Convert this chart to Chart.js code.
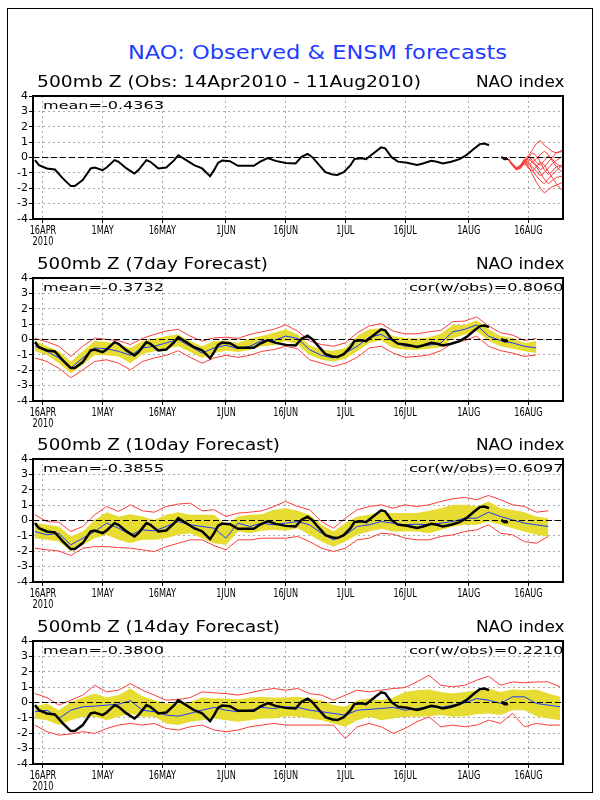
<!DOCTYPE html>
<html>
<head>
<meta charset="utf-8">
<script src="https://cdn.jsdelivr.net/npm/chart.js@4.4.0/dist/chart.umd.min.js"></script>
<style>
  body { margin: 0; background: #fff; width: 600px; height: 800px; position: relative; overflow: hidden; font-family: "DejaVu Sans", sans-serif; }
  #frame { position: absolute; left: 7px; top: 8px; width: 584px; height: 783px; border: 1px solid #000; }
  canvas { position: absolute; left: 0; }
  .t { position: absolute; white-space: nowrap; line-height: 1; transform-origin: 0 0; z-index: 2; }
</style>
</head>
<body>
<div id="frame"></div>
<script>
// x axis is days since 14 Apr 2010
var xMin = -0.5, xMax = 132.7;
var tickDays = [2, 17, 32, 48, 63, 78, 93, 109, 124];
var tickLabels = ['16APR', '1MAY', '16MAY', '1JUN', '16JUN', '1JUL', '16JUL', '1AUG', '16AUG'];
var yearLabel = '2010';

// observed NAO index (null = gap)
var obsDays = [0,1,3,5,7,9,10,12,14,15,17,18,20,21,23,25,26,28,29,31,33,35,36,38,40,42,44,45,46,47,
  49,51,55,56.5,58.5,60.5,63,65.5,67,68.5,69.7,71.6,73,74.8,76,77.6,79.3,80.3,82,83.2,
  85,87,88,89.6,91.2,93.5,96,97.5,99.6,101,102.5,104.6,106.7,108.4,110.1,111.8,113,114.1,114.5,117.2,118,118.9];
var obsVals = [-0.17,-0.5,-0.71,-0.78,-1.36,-1.86,-1.86,-1.47,-0.71,-0.65,-0.82,-0.65,-0.17,-0.28,-0.71,-1.04,-0.82,-0.17,-0.28,-0.71,
  -0.65,-0.17,0.15,-0.17,-0.5,-0.71,-1.21,-0.82,-0.35,-0.2,-0.24,-0.54,-0.54,-0.28,-0.04,-0.22,-0.35,-0.39,0.05,0.24,
  0.02,-0.55,-0.95,-1.1,-1.14,-0.95,-0.5,-0.1,-0.05,-0.11,0.26,0.66,0.6,0.02,-0.27,-0.34,-0.48,-0.39,-0.22,-0.28,
  -0.39,-0.28,-0.11,0.15,0.52,0.87,0.91,0.8,null,0.04,-0.11,-0.09];

// ENSM members for the coming days (top panel)
var ensDays = [119,120,121,122,123,124,125,126,127,128,129,130,131,132.7];
var ensMembers = [
  [-0.1,-0.45,-0.75,-0.65,-0.2,0.1,0.5,0.9,1.1,0.8,0.6,0.4,0.3,0.4],
  [-0.1,-0.5,-0.8,-0.6,-0.3,-0.6,-1.1,-1.6,-2.0,-2.3,-2.1,-1.9,-1.8,-1.6],
  [-0.15,-0.5,-0.7,-0.5,-0.1,0.1,-0.2,-0.5,-0.8,-0.6,-0.3,0.0,0.3,0.5],
  [-0.1,-0.4,-0.65,-0.55,-0.4,-0.7,-0.9,-0.6,-0.3,-0.5,-0.9,-1.3,-1.7,-2.2],
  [-0.1,-0.5,-0.75,-0.7,-0.3,0.0,0.3,0.1,-0.3,-0.8,-1.1,-0.9,-0.6,-0.5],
  [-0.15,-0.55,-0.8,-0.6,-0.2,-0.4,-0.6,-0.9,-1.2,-1.0,-0.7,-0.4,-0.2,0.1],
  [-0.1,-0.45,-0.7,-0.5,-0.25,-0.1,-0.3,-0.1,0.2,0.4,0.2,-0.2,-0.6,-1.0],
  [-0.1,-0.5,-0.7,-0.6,-0.35,-0.5,-0.3,-0.6,-1.0,-1.4,-1.7,-1.5,-1.3,-1.2],
  [-0.1,-0.45,-0.75,-0.65,-0.3,-0.2,0.0,-0.3,-0.5,-0.2,0.1,-0.1,-0.4,-0.7],
  [-0.15,-0.5,-0.8,-0.7,-0.4,-0.3,-0.8,-1.2,-1.5,-1.7,-1.4,-1.1,-0.9,-0.4]
];

// forecast verification series, every 3 days
var fcDays = [0,3,6,9,12,15,18,21,24,27,30,33,36,39,42,45,48,51,54,57,60,63,66,69,72,75,78,81,84,87,90,93,96,99,102,105,108,111,114,117,120,123,126,129,132];

var f7Blue = [-0.44,-0.77,-1.2,-1.87,-1.2,-0.55,-0.6,-0.77,-1.03,-0.55,-0.44,-0.22,0,-0.44,-0.88,-0.55,-0.37,-0.6,-0.44,-0.07,-0.07,0.22,0.07,-0.66,-1.03,-1.2,-0.88,-0.44,0.15,0.33,-0.1,-0.44,-0.44,-0.37,-0.22,0.5,0.66,0.95,0.22,-0.07,-0.22,-0.44,-0.55,null,null];
var f7BandHi = [-0.07,-0.44,-0.77,-1.43,-0.77,-0.1,-0.15,-0.33,-0.55,-0.1,0.07,0.22,0.33,-0.1,-0.44,-0.1,-0.07,-0.22,0.07,0.22,0.44,0.66,0.33,-0.37,-0.66,-0.73,-0.55,0.22,0.66,0.73,0.22,0.1,0.07,0.15,0.37,0.95,0.95,1.25,0.66,0.22,0.1,-0.22,-0.1,null,null];
var f7BandLo = [-0.77,-1.0,-1.54,-2.2,-1.65,-1.0,-1.03,-1.1,-1.54,-0.95,-0.77,-0.6,-0.44,-0.81,-1.2,-0.88,-0.73,-0.81,-0.66,-0.44,-0.37,-0.1,-0.33,-1.0,-1.32,-1.43,-1.25,-0.77,-0.22,-0.07,-0.55,-0.66,-0.66,-0.6,-0.5,0.07,0.33,0.55,-0.1,-0.44,-0.6,-0.77,-0.88,null,null];
var f7RedHi = [0.07,-0.15,-0.44,-1.1,-0.44,0.1,0,-0.07,-0.33,0.07,0.33,0.55,0.66,0.22,-0.1,0.1,0.15,0.07,0.33,0.5,0.66,0.95,0.55,-0.1,-0.33,-0.44,-0.22,0.44,0.88,1.03,0.55,0.37,0.37,0.5,0.59,1.16,1.2,1.47,0.88,0.44,0.29,-0.07,0.07,null,null];
var f7RedLo = [-1.2,-1.43,-1.87,-2.48,-1.98,-1.43,-1.32,-1.54,-1.98,-1.43,-1.2,-1.03,-0.73,-1.16,-1.54,-1.2,-1.03,-1.16,-1.03,-0.77,-0.66,-0.44,-0.6,-1.32,-1.54,-1.76,-1.54,-1.16,-0.55,-0.44,-0.88,-1.16,-1.1,-1.0,-0.73,-0.22,-0.07,0.22,-0.44,-0.73,-0.88,-1.1,-1.0,null,null];

var f10Blue = [-0.72,-0.93,-0.83,-1.59,-1.15,-0.72,-0.17,-0.5,-0.93,-0.61,-0.67,-0.39,-0.07,-0.28,-0.39,-0.5,-1.15,-0.17,-0.39,-0.17,-0.28,-0.17,-0.07,-0.28,-0.83,-1.26,-0.93,-0.39,-0.28,-0.07,-0.17,-0.28,-0.24,-0.28,-0.17,-0.07,0.15,0.15,0.54,0.26,0.04,-0.17,-0.28,-0.39,null];
var f10BandHi = [-0.17,-0.28,-0.39,-1.04,-0.72,0.04,0.54,0.26,0.41,0.26,0.04,0.37,0.54,0.37,0.37,0.37,-0.28,0.26,0.37,0.41,0.7,0.8,0.63,0.37,-0.28,-0.72,-0.17,0.26,0.37,0.54,0.48,0.48,0.48,0.63,0.8,1.02,1.02,0.91,1.24,0.8,0.7,0.54,0.26,0.15,null];
var f10BandLo = [-1.15,-1.26,-1.37,-2.02,-1.59,-1.15,-0.93,-1.26,-1.48,-1.26,-1.26,-1.15,-0.93,-0.83,-1.15,-1.48,-1.59,-0.72,-0.83,-0.67,-0.61,-0.67,-0.5,-0.93,-1.37,-1.7,-1.37,-0.93,-0.72,-0.54,-0.72,-0.72,-0.72,-0.83,-0.61,-0.39,-0.28,-0.28,-0.07,-0.28,-0.5,-0.72,-0.93,-1.04,null];
var f10RedHi = [0.37,-0.07,-0.11,-0.72,-0.39,0.37,0.91,0.59,1.02,0.63,0.54,0.91,1.07,1.13,0.63,0.7,0.26,0.48,0.54,0.63,0.91,1.24,0.91,0.7,-0.07,-0.5,0.15,0.7,0.91,1.02,0.8,1.02,0.91,1.02,1.24,1.41,1.5,1.35,1.63,1.35,1.02,0.91,0.54,0.63,null];
var f10RedLo = [-1.8,-1.91,-1.98,-2.28,-1.8,-1.7,-1.7,-1.76,-1.8,-1.91,-2.02,-1.7,-1.48,-1.26,-1.26,-1.63,-1.91,-1.26,-1.26,-1.15,-1.15,-1.15,-1.04,-1.37,-1.8,-2.02,-1.8,-1.26,-1.15,-0.83,-0.89,-1.15,-1.26,-1.26,-1.04,-0.93,-0.72,-0.61,-0.28,-0.83,-0.93,-1.37,-1.48,-1.04,null];

var f14Blue = [-0.6,-0.5,-1.04,-0.5,-0.28,-0.24,-0.17,-0.11,0.11,-0.5,-0.6,-0.82,-0.89,-0.71,-0.5,-0.32,-0.5,-0.6,-0.5,-0.32,-0.39,-0.28,-0.32,-0.5,-0.6,-0.71,-0.82,-0.5,-0.45,-0.39,-0.32,-0.5,-0.39,-0.28,-0.32,-0.17,-0.02,0.26,0.15,-0.06,0.37,0.37,-0.06,-0.17,-0.28];
var f14BandHi = [-0.28,-0.06,-0.5,0.04,0.32,0.58,0.32,0.48,0.91,0.41,0.15,-0.06,-0.06,0.04,0.32,0.26,0.26,0.19,0.32,0.37,0.32,0.32,0.37,0.26,0.15,-0.17,-0.28,0.15,0.26,0.15,0.32,0.69,0.8,0.84,0.69,0.58,0.69,0.8,0.91,0.69,0.84,0.8,0.84,0.58,0.37];
var f14BandLo = [-1.04,-1.15,-1.47,-1.15,-0.93,-0.93,-1.15,-0.93,-0.71,-0.93,-0.93,-1.36,-1.47,-1.25,-1.15,-1.04,-1.15,-1.25,-1.15,-1.04,-1.04,-0.89,-0.93,-1.04,-1.15,-1.36,-1.58,-1.15,-0.93,-1.15,-1.04,-0.93,-0.93,-0.89,-0.82,-0.93,-0.89,-0.76,-0.71,-0.82,-0.5,-0.5,-0.89,-1.04,-1.15];
var f14RedHi = [0.58,0.32,-0.17,0.15,0.48,1.12,0.69,0.8,1.23,0.8,0.48,0.15,0.19,0.32,0.69,0.63,0.58,0.48,0.63,0.8,0.91,0.8,0.91,0.58,0.48,0.15,0.48,0.8,0.69,0.8,0.91,0.97,1.34,1.77,1.12,1.02,1.12,1.45,1.71,1.12,1.34,1.28,1.34,1.34,1.02];
var f14RedLo = [-1.47,-1.9,-2.12,-2.05,-1.9,-2.01,-1.69,-1.47,-1.36,-1.47,-1.36,-1.69,-1.79,-1.58,-1.47,-1.79,-1.9,-1.79,-1.58,-1.47,-1.36,-1.47,-1.47,-1.47,-1.47,-1.47,-2.34,-1.58,-1.36,-1.58,-2.01,-1.69,-1.25,-0.93,-1.58,-1.47,-1.58,-1.47,-1.15,-1.36,-0.71,-1.58,-1.36,-1.47,-1.47];

var panelTops = [96, 278, 459, 641];
var subTitles = ['500mb Z (Obs: 14Apr2010 - 11Aug2010)', '500mb Z (7day Forecast)', '500mb Z (10day Forecast)', '500mb Z (14day Forecast)'];
var subWidths = [384, 231, 243, 243];
var meanTexts = ['mean=-0.4363', 'mean=-0.3732', 'mean=-0.3855', 'mean=-0.3800'];
var corTexts = [null, 'cor(w/obs)=0.8060', 'cor(w/obs)=0.6097', 'cor(w/obs)=0.2210'];

var RED = 'rgb(250,60,60)', BLUE = 'rgb(30,60,255)', YELLOW = 'rgb(230,220,50)';

function pts(days, vals) {
  return days.map(function(d, i) { return { x: d, y: vals[i] }; });
}

function line(data, color, width, extra) {
  var ds = { data: data, borderColor: color, borderWidth: width, pointRadius: 0, tension: 0, fill: false, spanGaps: false };
  for (var k in extra) ds[k] = extra[k];
  return ds;
}

// frame around plot area and date labels under the x axis
var boxPlugin = {
  id: 'box',
  afterDraw: function(chart) {
    var a = chart.chartArea, ctx = chart.ctx, xs = chart.scales.x;
    ctx.save();
    ctx.strokeStyle = '#000';
    ctx.lineWidth = 2;
    ctx.strokeRect(a.left, a.top, a.right - a.left, a.bottom - a.top);
    ctx.fillStyle = '#000';
    ctx.font = '12px "DejaVu Sans"';
    ctx.textAlign = 'center';
    tickDays.forEach(function(d, i) {
      var x = xs.getPixelForValue(d);
      ctx.save();
      ctx.translate(x, a.bottom + 15);
      ctx.scale(0.68, 1);
      ctx.fillText(tickLabels[i], 0, 0);
      if (i === 0) ctx.fillText(yearLabel, 0, 10.5);
      ctx.restore();
    });
    ctx.restore();
  }
};

function makePanel(idx, datasets) {
  var top = panelTops[idx];
  var cv = document.createElement('canvas');
  cv.width = 600; cv.height = 161;
  cv.style.top = (top - 8) + 'px';
  cv.style.width = '600px'; cv.style.height = '161px';
  document.body.appendChild(cv);

  var zero = line([{ x: xMin, y: 0 }, { x: xMax, y: 0 }], '#000', 1, { borderDash: [6, 3] });
  var all = [datasets[0], zero].concat(datasets.slice(1));

  new Chart(cv.getContext('2d'), {
    type: 'line',
    data: { datasets: all },
    options: {
      responsive: false,
      animation: false,
      events: [],
      layout: { padding: { left: 0, right: 37, top: 8, bottom: 0 } },
      plugins: { legend: { display: false }, tooltip: { enabled: false } },
      scales: {
        x: {
          type: 'linear', min: xMin, max: xMax,
          afterBuildTicks: function(s) { s.ticks = tickDays.map(function(d) { return { value: d }; }); },
          afterFit: function(s) { s.height = 30; },
          ticks: { display: false },
          grid: { color: '#aaa', tickColor: '#000', tickLength: 4, tickBorderDash: [] },
          border: { display: false, dash: [2, 3] }
        },
        y: {
          min: -4, max: 4,
          afterFit: function(s) { s.width = 33; },
          ticks: { stepSize: 1, autoSkip: false, color: '#000', padding: 1, font: { family: 'DejaVu Sans', size: 11 } },
          grid: { color: '#aaa', tickColor: '#000', tickLength: 4, tickBorderDash: [] },
          border: { display: false, dash: [2, 3] }
        }
      }
    },
    plugins: [boxPlugin]
  });

  addText(subTitles[idx], 36.7, top - 7.4, 15.5, subWidths[idx]);
  addText('NAO index', 475.7, top - 7.4, 15.5, 88.6);
  addText(meanTexts[idx], 42.7, top + 12.6, 10.5, 121);
  if (corTexts[idx]) addText(corTexts[idx], 408.7, top + 12.6, 10.5, 154.6);
}

function addText(txt, left, base, size, width, color) {
  var el = document.createElement('div');
  el.className = 't';
  el.textContent = txt;
  el.style.fontSize = size + 'px';
  el.style.color = color || '#000';
  el.style.left = left + 'px';
  el.style.top = (base - 0.846 * size) + 'px';
  document.body.appendChild(el);
  var w = el.getBoundingClientRect().width;
  el.style.transform = 'scaleX(' + (width / w) + ')';
}

addText('NAO: Observed & ENSM forecasts', 128, 59.3, 19.5, 379, BLUE);

// panel 1: observed + ensemble members
var p1 = [line(pts(obsDays, obsVals), '#000', 2)];
ensMembers.forEach(function(m) { p1.push(line(pts(ensDays, m), RED, 1)); });
makePanel(0, p1);

// panels 2-4: observed, ensemble mean, spread band, min/max
function forecastSets(blue, hi, lo, rHi, rLo) {
  return [
    line(pts(obsDays, obsVals), '#000', 2.5),
    line(pts(fcDays, blue), BLUE, 1),
    line(pts(fcDays, rHi), RED, 1),
    line(pts(fcDays, rLo), RED, 1),
    line(pts(fcDays, hi), YELLOW, 0, { fill: '+1', backgroundColor: YELLOW }),
    line(pts(fcDays, lo), YELLOW, 0)
  ];
}
makePanel(1, forecastSets(f7Blue, f7BandHi, f7BandLo, f7RedHi, f7RedLo));
makePanel(2, forecastSets(f10Blue, f10BandHi, f10BandLo, f10RedHi, f10RedLo));
makePanel(3, forecastSets(f14Blue, f14BandHi, f14BandLo, f14RedHi, f14RedLo));
</script>
</body>
</html>
